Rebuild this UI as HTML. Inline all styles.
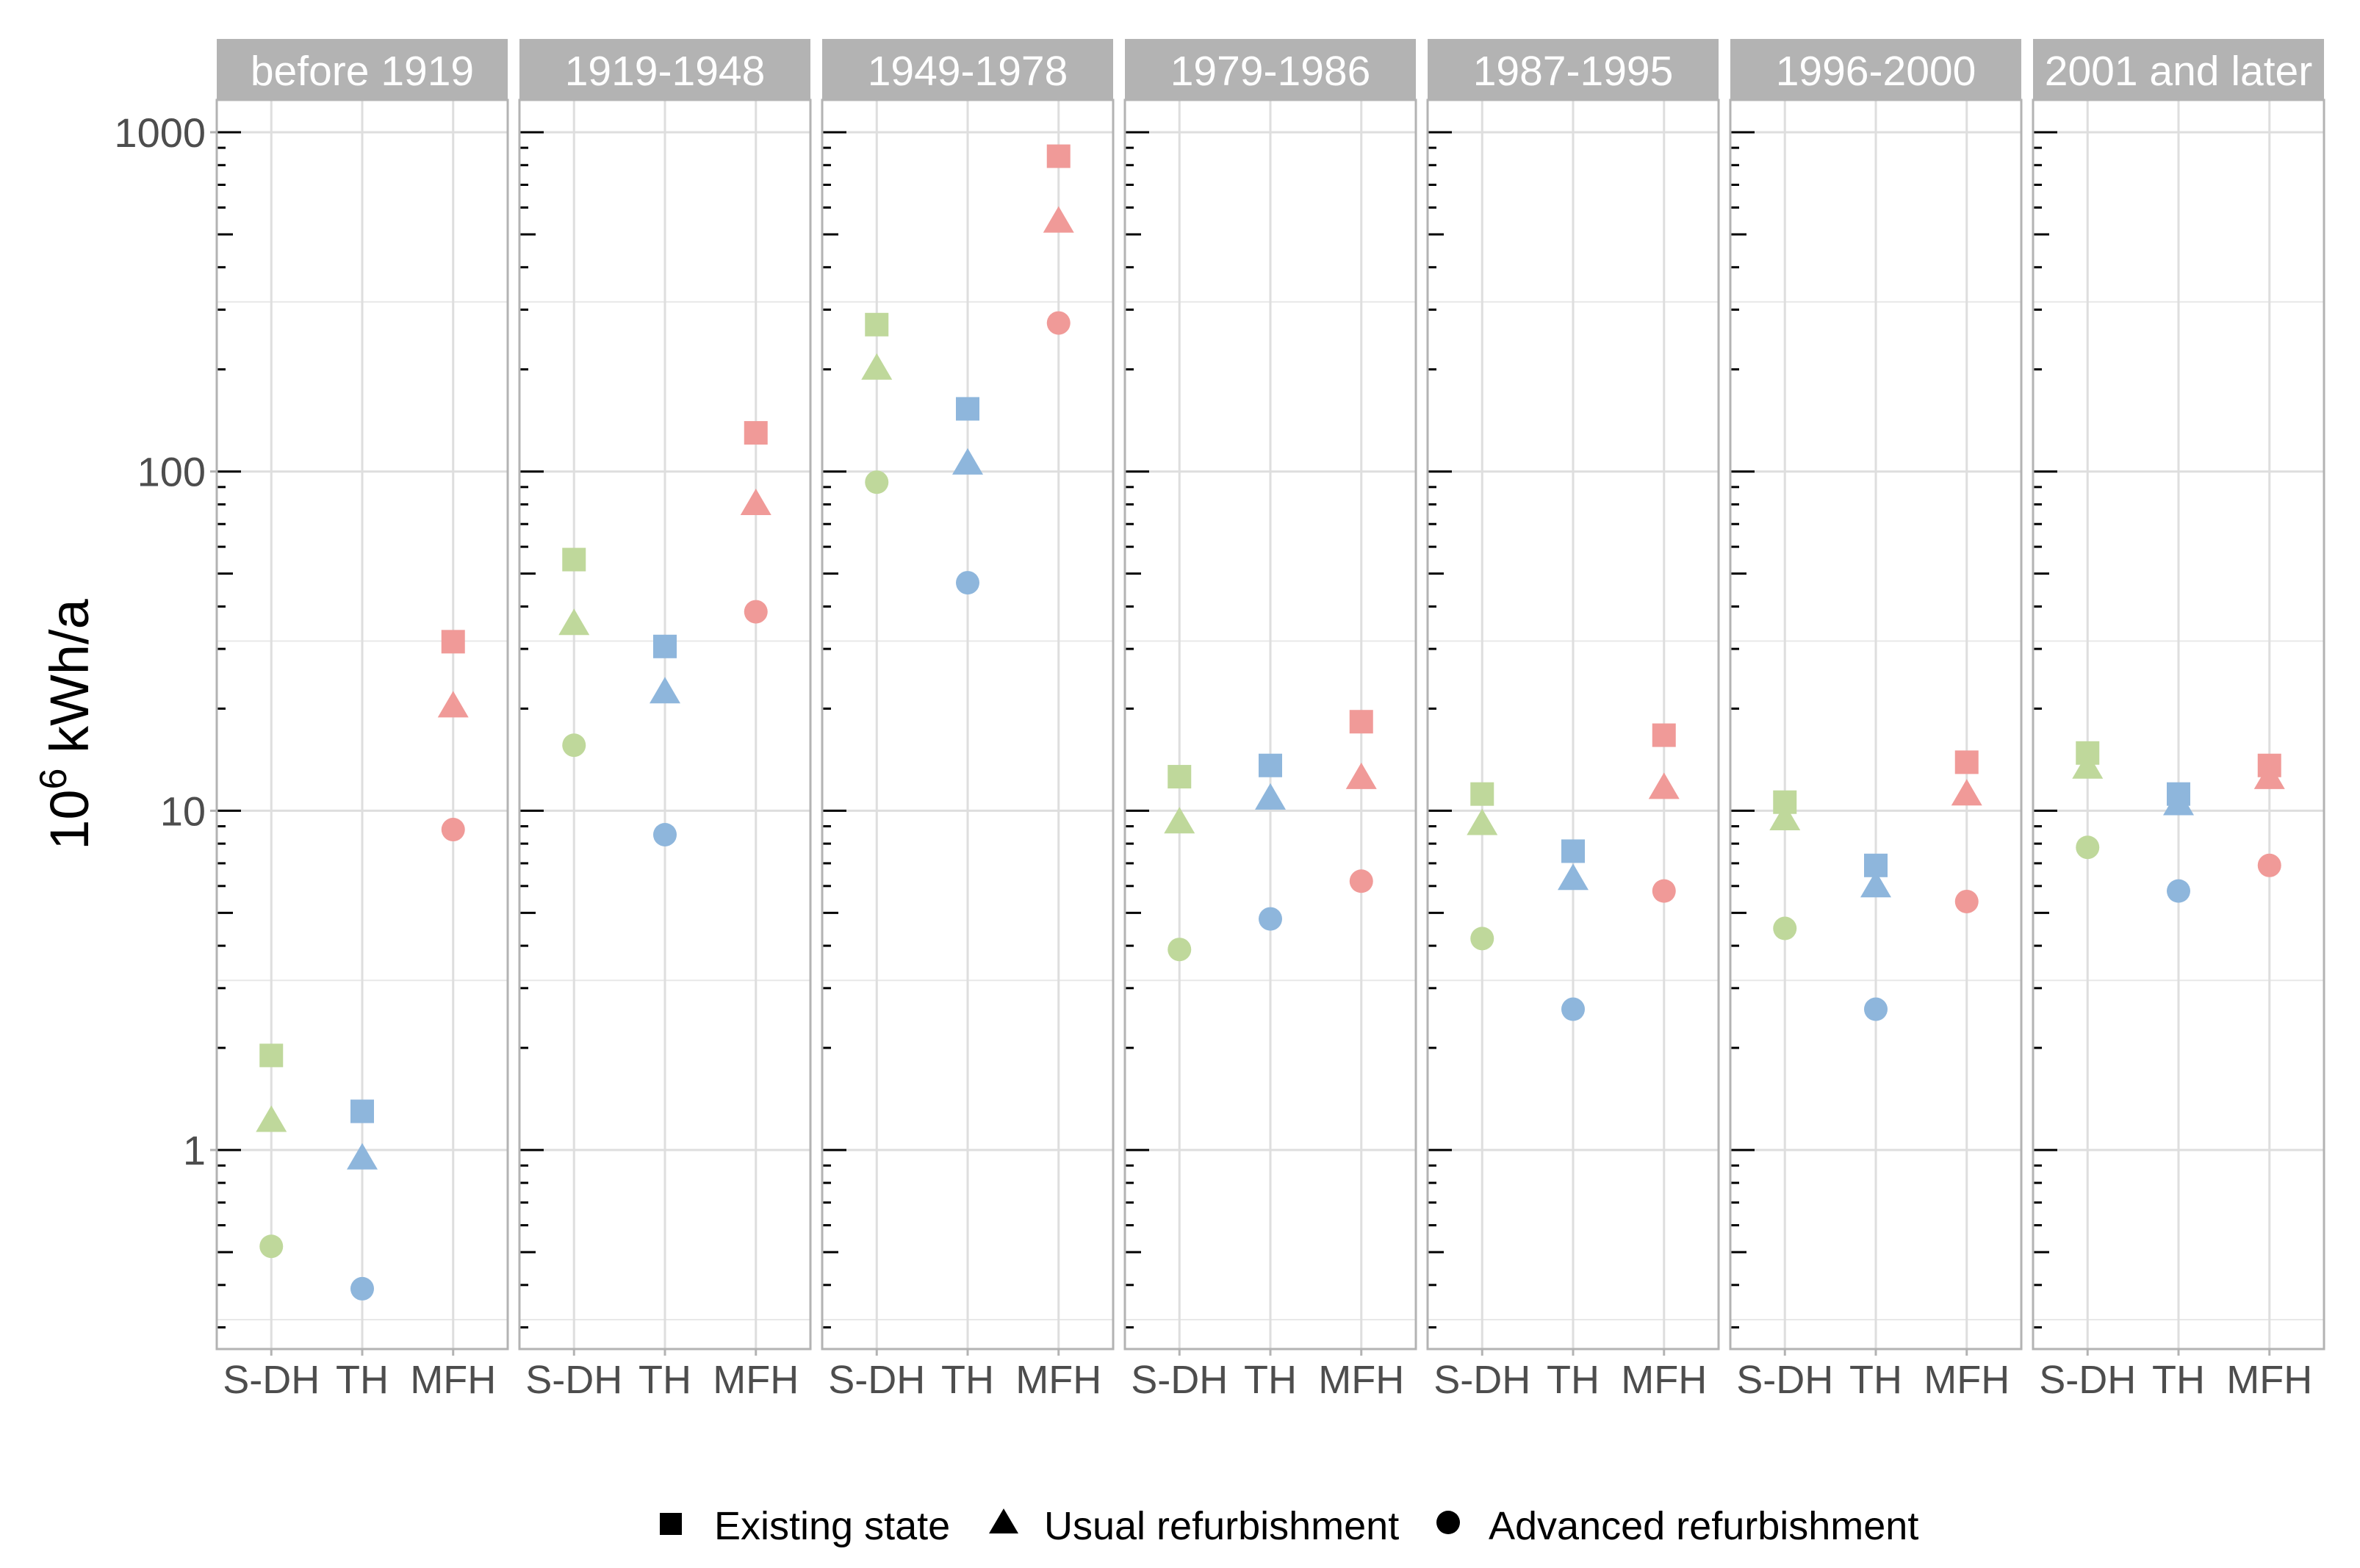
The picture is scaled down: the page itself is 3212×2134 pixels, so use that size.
<!DOCTYPE html>
<html><head><meta charset="utf-8"><style>
html,body{margin:0;padding:0;background:#fff}
svg{display:block;font-family:"Liberation Sans",sans-serif}
</style></head><body>
<svg id="chart" width="3212" height="2134" viewBox="0 0 3212 2134" xmlns="http://www.w3.org/2000/svg"></svg>
<script>
const periods=["before 1919","1919-1948","1949-1978","1979-1986","1987-1995","1996-2000","2001 and later"];
const types=["S-DH","TH","MFH"];
const seriesNames=["Existing state","Usual refurbishment","Advanced refurbishment"];
const yTicks=[1,10,100,1000];
// values[period][type] = [existing, usual, advanced]
const existingVals=[[1.9,1.3,31.5],[55,30.5,130],[271,153,850],[12.6,13.6,18.3],[11.2,7.6,16.7],[10.6,6.9,13.9],[14.8,11.2,13.6]];
const usualVals=[[1.2,0.93,20],[35,22,79],[198,104,537],[9.1,10.7,12.3],[9.0,6.2,11.5],[9.3,5.9,11.0],[13.2,10.3,12.3]];
const advancedVals=[[0.52,0.39,8.8],[15.6,8.5,38.6],[93,47,274],[3.9,4.8,6.2],[4.2,2.6,5.8],[4.5,2.6,5.4],[7.8,5.8,6.9]];

const NS="http://www.w3.org/2000/svg";
const svg=document.getElementById('chart');
function mk(tag,attrs,parent){const e=document.createElementNS(NS,tag);for(const k in attrs)e.setAttribute(k,attrs[k]);(parent||svg).appendChild(e);return e;}
const colors=["#BFD89B","#8EB6DC","#F09A98"];
const panelTop=136,panelBot=1836,stripTop=53,pLeft0=295,pW=396,pStep=412;
const y=v=>180+(3-Math.log10(v))*461.7;
const xCat=(p,i)=>pLeft0+p*pStep+pW*(0.6+i)/3.2;

for(let p=0;p<periods.length;p++){
  const L=pLeft0+p*pStep;
  const g=mk('g',{});
  
  
  const st=mk('rect',{x:L,y:stripTop,width:pW,height:panelTop-stripTop,fill:'#B3B3B3'},g);
  
  
  const stt=mk('text',{x:L+pW/2,y:stripTop+63,'text-anchor':'middle','font-size':57,fill:'#FFFFFF'},g);
  stt.textContent=periods[p];
  
  
  for(let d=-1;d<=3;d++){
    const mv=Math.pow(10,d+0.5);const yy=y(mv);
    if(yy>panelTop&&yy<panelBot) mk('line',{x1:L,x2:L+pW,y1:yy,y2:yy,stroke:'#E8E8E8','stroke-width':2},g);
  }
  yTicks.forEach(t=>mk('line',{x1:L,x2:L+pW,y1:y(t),y2:y(t),stroke:'#DEDEDE','stroke-width':3},g));
  types.forEach((t,i)=>mk('line',{x1:xCat(p,i),x2:xCat(p,i),y1:panelTop,y2:panelBot,stroke:'#DEDEDE','stroke-width':3},g));
  for(let d=-1;d<=3;d++){
    for(let m=1;m<=9;m++){
      const v=m*Math.pow(10,d);const yy=y(v);
      if(yy<panelTop||yy>panelBot)continue;
      const len=m===1?33:(m===5?22:12);
      mk('line',{x1:L,x2:L+len,y1:yy,y2:yy,stroke:'#000','stroke-width':3},g);
    }
  }
  mk('rect',{x:L,y:panelTop,width:pW,height:panelBot-panelTop,fill:'none',stroke:'#B3B3B3','stroke-width':3},g);
  types.forEach((t,i)=>{
    mk('line',{x1:xCat(p,i),x2:xCat(p,i),y1:panelBot,y2:panelBot+9,stroke:'#B3B3B3','stroke-width':3},g);
    const tx=mk('text',{x:xCat(p,i),y:panelBot+60,'text-anchor':'middle','font-size':54,fill:'#4D4D4D'},g);
    tx.textContent=t;
    
    
  });
  for(let i=0;i<3;i++){
    const cx=xCat(p,i),c=colors[i];
    const s=mk('rect',{x:cx-16,y:y(existingVals[p][i])-16,width:32,height:32,fill:c},g);
    
    
    const ty=y(usualVals[p][i]);
    const tr=mk('polygon',{points:`${cx-21},${ty+12} ${cx+21},${ty+12} ${cx},${ty-24}`,fill:c},g);
    
    
    const ci=mk('circle',{cx:cx,cy:y(advancedVals[p][i]),r:16,fill:c},g);
    
    
  }
}
yTicks.forEach(t=>{
  mk('line',{x1:286,x2:295,y1:y(t),y2:y(t),stroke:'#B3B3B3','stroke-width':3});
  const tx=mk('text',{x:280,y:y(t)+20,'text-anchor':'end','font-size':56,fill:'#4D4D4D'});
  tx.textContent=String(t);
  
  
});
const yt=mk('text',{transform:'translate(120,986) rotate(-90)','text-anchor':'middle','font-size':74,fill:'#000'});
yt.innerHTML='10<tspan dy="-30" font-size="52">6</tspan><tspan dy="30"> kWh/a</tspan>';


const lg=mk('g',{});


const ly=2075;
mk('rect',{x:898,y:ly-16,width:30,height:30,fill:'#000'},lg);
mk('polygon',{points:`1346,${ly+12} 1386,${ly+12} 1366,${ly-22}`,fill:'#000'},lg);
mk('circle',{cx:1971,cy:ly-3,r:16,fill:'#000'},lg);
[[972,0],[1421,1],[2026,2]].forEach(([lx,i])=>{
  const t=mk('text',{x:lx,y:ly+20,'font-size':54,fill:'#000'},lg);
  t.textContent=seriesNames[i];
  
  
});
</script>
</body></html>
